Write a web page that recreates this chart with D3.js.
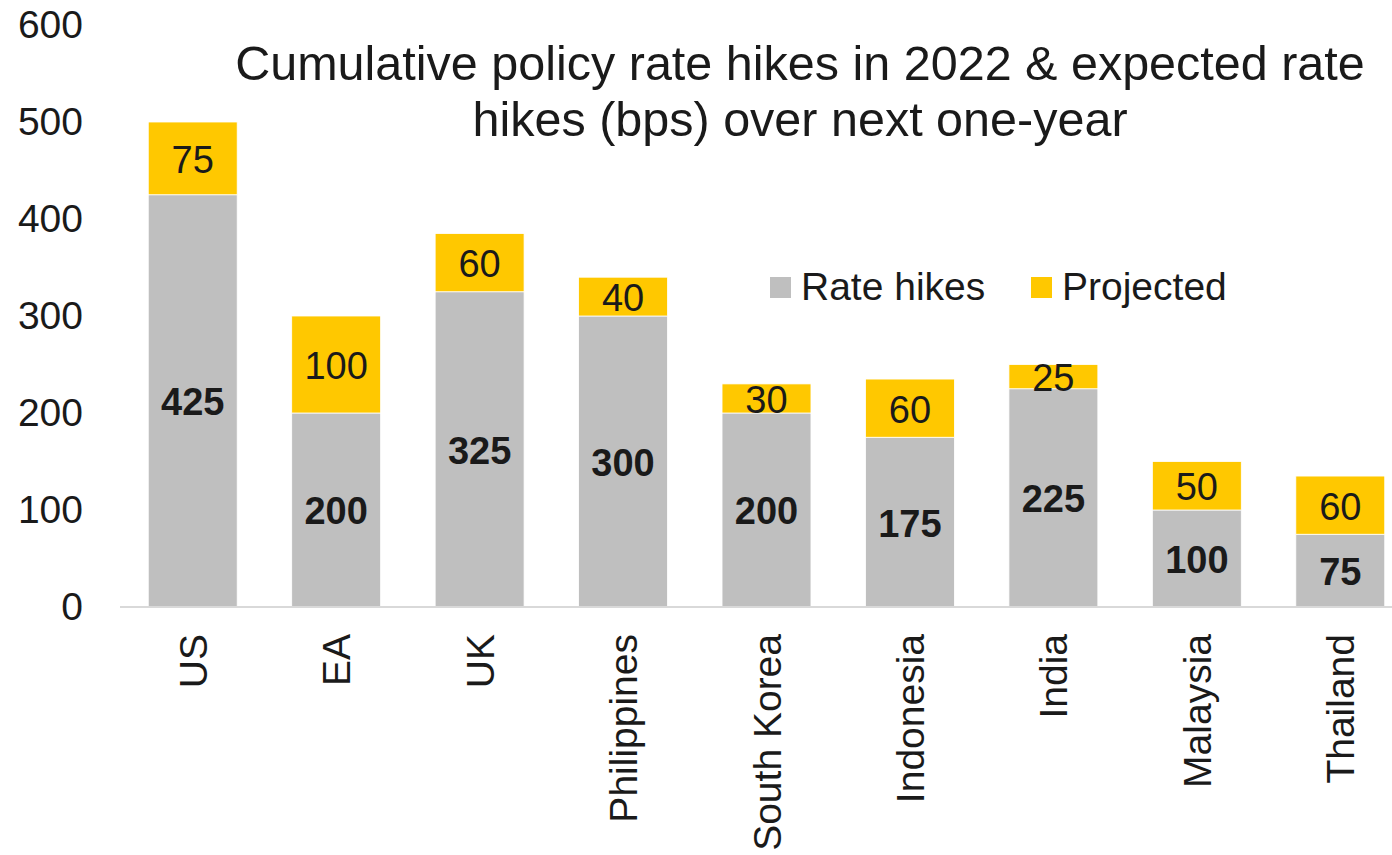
<!DOCTYPE html>
<html>
<head>
<meta charset="utf-8">
<script src="https://cdn.jsdelivr.net/npm/d3@7"></script>
<style>
  html, body { margin: 0; padding: 0; background: #fff; }
  svg { display: block; font-family: "Liberation Sans", Arial, sans-serif; }
</style>
</head>
<body>
<svg id="chart" width="1392" height="855"></svg>
<script>
// Policy rate hikes delivered in 2022 and expected over the next year (bps)
const categories = ["US", "EA", "UK", "Philippines", "South Korea", "Indonesia", "India", "Malaysia", "Thailand"];
const rateHikes = [425, 200, 325, 300, 200, 175, 225, 100, 75];
const projected = [75, 100, 60, 40, 30, 60, 25, 50, 60];
const yTicks = [0, 100, 200, 300, 400, 500, 600];
const seriesNames = ["Rate hikes", "Projected"];
const titleLines = ["Cumulative policy rate hikes in 2022 & expected rate", "hikes (bps) over next one-year"];

const colors = { "Rate hikes": "#BFBFBF", "Projected": "#FFC800" };
const textColor = "#1a1a1a";

const svg = d3.select("#chart");

const x = d3.scaleBand()
  .domain(categories)
  .range([121, 1412])
  .paddingInner(0.38)
  .paddingOuter(0.19);

const y = d3.scaleLinear()
  .domain([0, 600])
  .range([607, 25]);

// stacked layout: rate hikes at the bottom, projected on top
const rows = categories.map((c, i) => ({ category: c, "Rate hikes": rateHikes[i], "Projected": projected[i] }));
const stacked = d3.stack().keys(seriesNames)(rows);

// y axis labels (no line, no ticks)
const yAxis = svg.append("g")
  .attr("transform", "translate(83,0)")
  .call(d3.axisLeft(y).tickValues(yTicks).tickSize(0).tickPadding(0));
yAxis.select(".domain").remove();
yAxis.selectAll("text")
  .attr("fill", textColor)
  .style("font-size", "39px")
  .style("font-family", "'Liberation Sans', Arial, sans-serif");

// bars
const layers = svg.append("g").selectAll("g")
  .data(stacked)
  .join("g")
  .attr("fill", d => colors[d.key]);

layers.selectAll("rect")
  .data(d => d.map(v => ({ key: d.key, v })))
  .join("rect")
  .attr("x", d => x(d.v.data.category))
  .attr("width", x.bandwidth())
  .attr("y", d => y(d.v[1]))
  .attr("height", d => y(d.v[0]) - y(d.v[1]))
  .attr("stroke", "#ffffff")
  .attr("stroke-width", 0.8);

// value labels centred in each segment
layers.selectAll("text")
  .data(d => d.map(v => ({ key: d.key, v })))
  .join("text")
  .attr("x", d => x(d.v.data.category) + x.bandwidth() / 2)
  .attr("y", d => (y(d.v[0]) + y(d.v[1])) / 2)
  .attr("dy", "0.38em")
  .attr("text-anchor", "middle")
  .attr("fill", textColor)
  .style("font-size", "38px")
  .style("font-weight", d => d.key === "Rate hikes" ? "bold" : "normal")
  .text(d => d.v[1] - d.v[0]);

// category axis
svg.append("line")
  .attr("x1", 120).attr("x2", 1392)
  .attr("y1", 607).attr("y2", 607)
  .attr("stroke", "#D9D9D9")
  .attr("stroke-width", 2);

svg.append("g").selectAll("text")
  .data(categories)
  .join("text")
  .attr("transform", d => `translate(${x(d) + x.bandwidth() / 2},634) rotate(-90)`)
  .attr("text-anchor", "end")
  .attr("dy", "0.36em")
  .attr("fill", textColor)
  .style("font-size", "39px")
  .text(d => d);

// title
svg.append("text")
  .attr("x", 800)
  .attr("text-anchor", "middle")
  .attr("fill", textColor)
  .style("font-size", "48.5px")
  .selectAll("tspan")
  .data(titleLines)
  .join("tspan")
  .attr("x", 800)
  .attr("y", (d, i) => 80 + i * 56)
  .text(d => d);

// legend
const legendX = [770, 1031];
const legend = svg.append("g").selectAll("g")
  .data(seriesNames)
  .join("g")
  .attr("transform", (d, i) => `translate(${legendX[i]},277)`);
legend.append("rect")
  .attr("width", 21).attr("height", 21)
  .attr("fill", d => colors[d]);
legend.append("text")
  .attr("x", 31)
  .attr("y", 10.5)
  .attr("dy", "0.33em")
  .attr("fill", textColor)
  .style("font-size", "39px")
  .text(d => d);
</script>
</body>
</html>
